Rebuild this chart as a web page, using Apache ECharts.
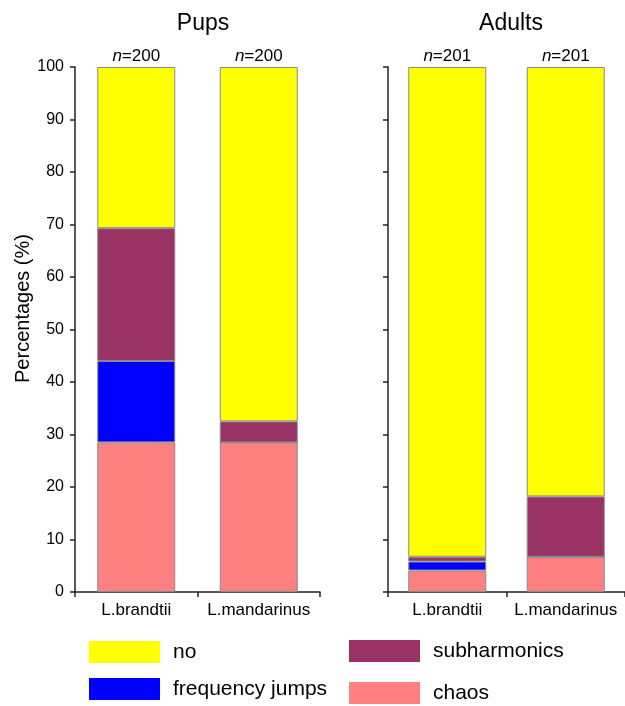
<!DOCTYPE html>
<html><head><meta charset="utf-8">
<script src="https://cdn.jsdelivr.net/npm/echarts@6/dist/echarts.min.js"></script>
<style>html,body{margin:0;padding:0;background:#fff}#c{width:625px;height:706px}</style>
</head><body><div id="c"></div>
<script>
const categories = ['L.brandtii', 'L.mandarinus'];
const seriesNames = ['chaos', 'frequency jumps', 'subharmonics', 'no'];
const colors = ['#FF8080', '#0000FF', '#993366', '#FFFF00'];
// Pups percentages per category
const pupsChaos = [28.5, 28.5];
const pupsFreqJumps = [15.5, 0];
const pupsSubharmonics = [25.3, 4.0];
const pupsNo = [30.7, 67.5];
const pupsN = [200, 200];
// Adults percentages per category
const adultsChaos = [4.1, 6.7];
const adultsFreqJumps = [1.7, 0];
const adultsSubharmonics = [0.9, 11.5];
const adultsNo = [93.3, 81.8];
const adultsN = [201, 201];
const yTicks = [0, 10, 20, 30, 40, 50, 60, 70, 80, 90, 100];

const chart = echarts.init(document.getElementById('c'), null, {renderer: 'canvas'});
const font = 'Liberation Sans, Arial, sans-serif';
const pupsData = [pupsChaos, pupsFreqJumps, pupsSubharmonics, pupsNo];
const adultsData = [adultsChaos, adultsFreqJumps, adultsSubharmonics, adultsNo];

function makeSeries(dataSet, idx, nArr) {
  return seriesNames.map((name, i) => {
    const s = {
      name: name, type: 'bar', stack: 'g' + idx, xAxisIndex: idx, yAxisIndex: idx,
      barWidth: 78,
      data: dataSet[i],
      itemStyle: {color: colors[i], borderColor: '#8a8a8a', borderWidth: 1},
      emphasis: {disabled: true}
    };
    if (name === 'no') {
      s.label = {
        show: true, position: 'top', distance: 2,
        formatter: p => '{i|n}{r|=' + nArr[p.dataIndex] + '}',
        rich: {
          i: {fontStyle: 'italic', fontSize: 17, color: '#000', fontFamily: font},
          r: {fontSize: 17, color: '#000', fontFamily: font}
        }
      };
    }
    return s;
  });
}

const axisLineStyle = {color: '#222', width: 1.5};
function yAxis(idx, showLabels) {
  return {
    type: 'value', gridIndex: idx, min: 0, max: 100, interval: 10,
    axisLine: {show: true, lineStyle: axisLineStyle},
    axisTick: {show: true, length: 5, lineStyle: axisLineStyle},
    splitLine: {show: false},
    axisLabel: {show: showLabels, fontSize: 16, color: '#000', fontFamily: font, margin: 11,
      formatter: v => yTicks.indexOf(v) >= 0 ? String(v) : ''},
    name: showLabels ? 'Percentages (%)' : '',
    nameLocation: 'middle', nameGap: 42,
    nameTextStyle: {fontSize: 20, color: '#000', fontFamily: font, padding: [0, 0, 0, 42]}
  };
}
function xAxis(idx) {
  return {
    type: 'category', gridIndex: idx, data: categories,
    axisLine: {show: true, lineStyle: axisLineStyle},
    axisTick: {show: true, length: 5, alignWithLabel: false, lineStyle: axisLineStyle},
    axisLabel: {interval: 0, fontSize: 17, color: '#000', fontFamily: font, margin: 10}
  };
}
function legendItem(name, left, top) {
  return {
    data: [name], left: left, top: top, padding: 0, itemWidth: 71, itemHeight: 22, icon: 'rect',
    itemStyle: {borderWidth: 0},
    textStyle: {fontSize: 21, color: '#000', fontFamily: font, padding: [0, 0, 0, 8]}
  };
}

chart.setOption({
  animation: false,
  title: [
    {text: 'Pups', left: 198, top: 7, textAlign: 'center',
      textStyle: {fontSize: 23, fontWeight: 'normal', color: '#000', fontFamily: font}},
    {text: 'Adults', left: 506, top: 7, textAlign: 'center',
      textStyle: {fontSize: 23, fontWeight: 'normal', color: '#000', fontFamily: font}}
  ],
  grid: [
    {left: 75, width: 245, top: 67, bottom: 114},
    {left: 388, width: 238, top: 67, bottom: 114}
  ],
  xAxis: [xAxis(0), xAxis(1)],
  yAxis: [yAxis(0, true), yAxis(1, false)],
  legend: [
    legendItem('no', 89, 641),
    legendItem('frequency jumps', 89, 678),
    legendItem('subharmonics', 349, 640),
    legendItem('chaos', 349, 682)
  ],
  series: makeSeries(pupsData, 0, pupsN).concat(makeSeries(adultsData, 1, adultsN))
});
</script></body></html>
